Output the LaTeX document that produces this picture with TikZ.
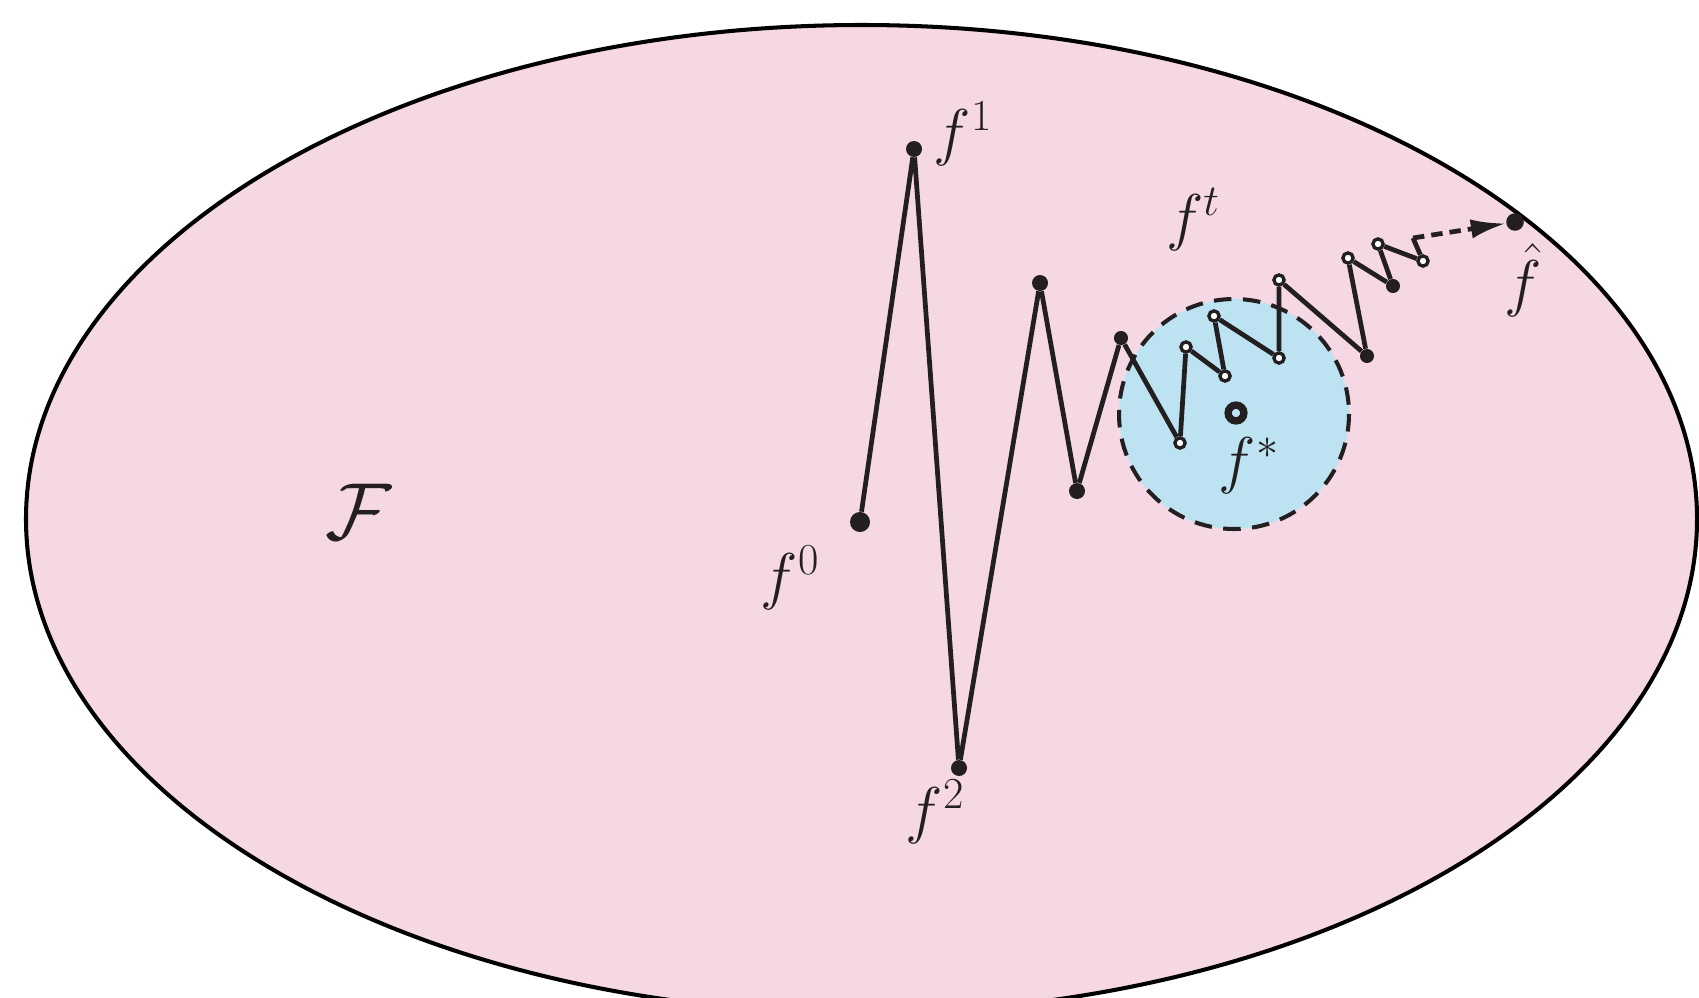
\RequirePackage{fix-cm}
\documentclass[tikz,border=0pt]{standalone}
\usetikzlibrary{arrows.meta}
\definecolor{pinkfill}{RGB}{245,216,228}
\definecolor{bluefill}{RGB}{189,226,242}
\definecolor{ink}{RGB}{35,31,32}
\begin{document}
\begin{tikzpicture}[x=0.02cm,y=-0.02cm,
  dotbig/.style={circle,fill=ink,inner sep=0pt,minimum size=11.4pt},
  dotmid/.style={circle,fill=ink,inner sep=0pt,minimum size=9.1pt},
  dotsmall/.style={circle,fill=ink,inner sep=0pt,minimum size=8pt},
  opendot/.style={circle,draw=ink,fill=white,line width=1.9pt,inner sep=0pt,minimum size=5.8pt},
  ringdot/.style={circle,draw=ink,line width=4.2pt,inner sep=0pt,minimum size=9pt},
  lbl/.style={font=\fontsize{36}{42}\selectfont,text=ink,inner sep=0pt},
  bigl/.style={font=\fontsize{46}{50}\selectfont,text=ink,inner sep=0pt},
  walk/.style={draw=ink,line width=2.7pt,line join=round},
]
\useasboundingbox (0,0) rectangle (1699,997);
\clip (0,0) rectangle (1699,997);
% space F
\draw[fill=pinkfill,draw=black,line width=2.3pt] (861.5,519) ellipse [x radius=835.5,y radius=494];
% neighbourhood of f*
\fill[bluefill] (1234,414) circle [radius=115];
\draw[ink,line width=2.3pt,dash pattern=on 10pt off 6.5pt] (1234,414) circle [radius=115];
% points
\node[dotbig] (p0) at (860,522) {};
\node[dotmid] (p1) at (914,149) {};
\node[dotmid] (p2) at (959,768) {};
\node[dotmid] (p3) at (1040,283) {};
\node[dotmid] (p4) at (1077,491) {};
\node[dotsmall] (p5) at (1121,338) {};
\node[opendot] (q1) at (1180,443) {};
\node[opendot] (q2) at (1186,347) {};
\node[opendot] (q3) at (1225,376) {};
\node[opendot] (q4) at (1214,316) {};
\node[opendot] (q5) at (1279,358) {};
\node[opendot] (q6) at (1279,280) {};
\node[dotsmall] (p6) at (1367,356) {};
\node[opendot] (q7) at (1348,258) {};
\node[dotsmall] (p7) at (1393,286) {};
\node[opendot] (q8) at (1378,244) {};
\node[opendot] (q9) at (1423,261) {};
\coordinate (kink) at (1413,238);
\node[dotmid,minimum size=10pt] (fh) at (1515,222) {};
\node[ringdot] (fs) at (1236,413) {};
% walk
\draw[walk] (p0) -- (p1) -- (p2) -- (p3) -- (p4) -- (p5) -- (q1) -- (q2) -- (q3) -- (q4) -- (q5) -- (q6) -- (p6) -- (q7) -- (p7) -- (q8) -- (q9);
\draw[walk] (q9) -- (kink);
\draw[walk,dash pattern=on 6.5pt off 4pt,-{Latex[length=20pt,width=11pt]}] (kink) -- (fh);
% labels
\node[bigl] (lF) at (359,512) {$\mathcal{F}$};
\node[lbl] (l0) at (790,578) {$f^0$};
\node[lbl] (l1) at (963,134) {$f^1$};
\node[lbl] (l2) at (935,812) {$f^2$};
\node[lbl] (lt) at (1193,220) {$f^t$};
\node[lbl] (ls) at (1249,466) {$f^*$};
\node[lbl] (lh) at (1523,280) {$\hat{f}$};
\end{tikzpicture}
\end{document}
